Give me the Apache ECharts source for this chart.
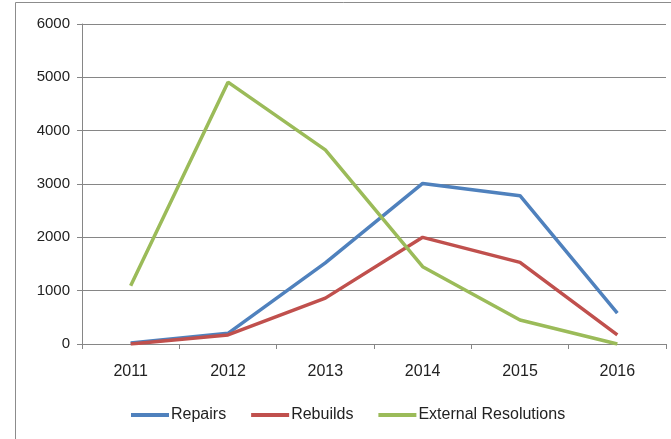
<!DOCTYPE html>
<html>
<head>
<meta charset="utf-8">
<script src="https://cdn.jsdelivr.net/npm/echarts@6/dist/echarts.min.js"></script>
<style>
  html, body { margin: 0; padding: 0; background: #fff; }
  #main { width: 671px; height: 439px; }
</style>
</head>
<body>
<div id="main"></div>
<script>
// data
var years = ['2011', '2012', '2013', '2014', '2015', '2016'];
var repairs = [20, 200, 1520, 3010, 2780, 580];
var rebuilds = [0, 170, 860, 2000, 1530, 170];
var external = [1090, 4910, 3640, 1450, 450, 0];

var font = '"Liberation Sans", sans-serif';

var myChart = echarts.init(document.getElementById('main'));

var option = {
  animation: false,
  backgroundColor: '#fff',
  graphic: [{
    type: 'rect',
    shape: { x: 15.5, y: 2.5, width: 670, height: 450 },
    style: { fill: 'none', stroke: '#8c8c8c', lineWidth: 1 },
    silent: true
  }],
  grid: { left: 82, right: 5, top: 24, bottom: 95 },
  legend: {
    left: 126,
    top: 402,
    icon: 'rect',
    itemWidth: 38,
    itemHeight: 4,
    itemGap: 25,
    textStyle: { fontFamily: font, fontSize: 16, color: '#222', padding: [0, 0, 0, -3] },
    data: ['Repairs', 'Rebuilds', 'External Resolutions']
  },
  xAxis: {
    type: 'category',
    data: years,
    boundaryGap: true,
    axisLine: { lineStyle: { color: '#868686' } },
    axisTick: { show: true, length: 5, lineStyle: { color: '#868686' } },
    axisLabel: { margin: 20, fontFamily: font, fontSize: 16, color: '#222' }
  },
  yAxis: {
    type: 'value',
    min: 0,
    max: 6000,
    interval: 1000,
    axisLine: { show: true, lineStyle: { color: '#868686' } },
    axisTick: { show: true, length: 5, lineStyle: { color: '#868686' } },
    splitLine: { lineStyle: { color: '#868686' } },
    axisLabel: {
      margin: 12, fontFamily: font, fontSize: 15, color: '#222',
      formatter: function (v) { return String(v); }
    }
  },
  series: [
    {
      name: 'Repairs', type: 'line', data: repairs,
      symbol: 'none', color: '#4F81BD',
      lineStyle: { width: 3.5, color: '#4F81BD' }
    },
    {
      name: 'Rebuilds', type: 'line', data: rebuilds,
      symbol: 'none', color: '#C0504D',
      lineStyle: { width: 3.5, color: '#C0504D' }
    },
    {
      name: 'External Resolutions', type: 'line', data: external,
      symbol: 'none', color: '#9BBB59',
      lineStyle: { width: 3.5, color: '#9BBB59' }
    }
  ]
};
myChart.setOption(option);
</script>
</body>
</html>
